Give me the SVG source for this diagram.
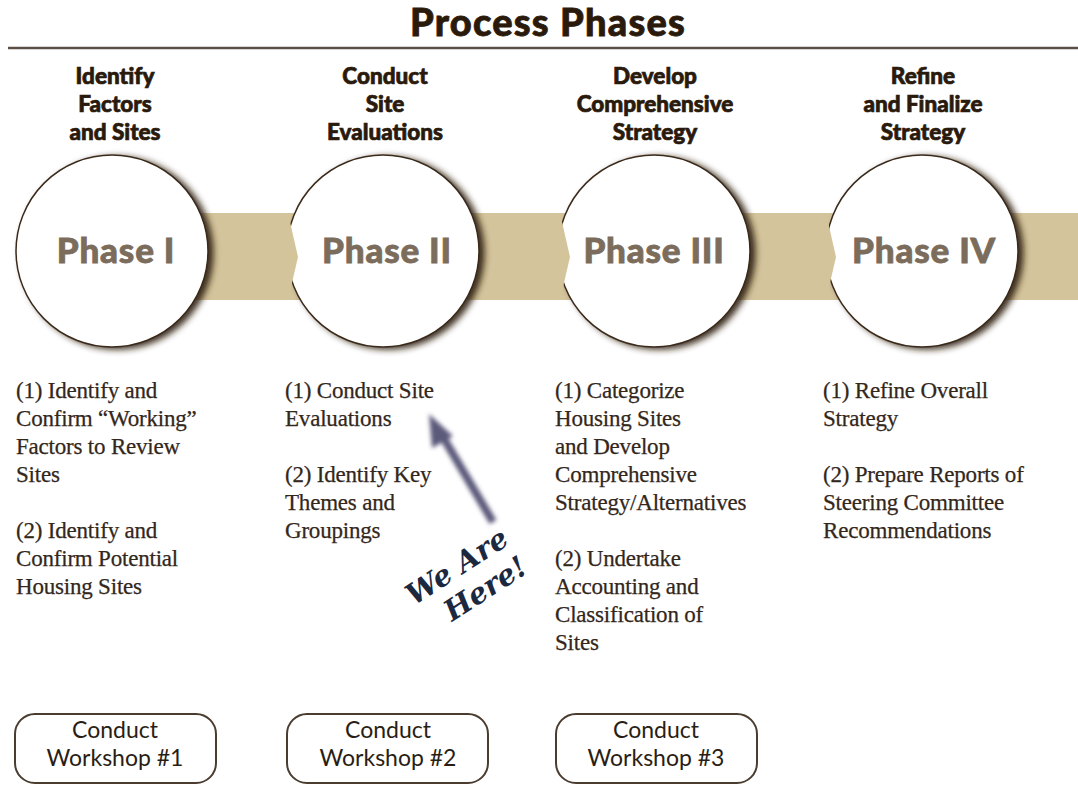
<svg xmlns="http://www.w3.org/2000/svg" width="1078" height="800" viewBox="0 0 1078 800">
<defs>
<filter id="sh" x="-20%" y="-20%" width="150%" height="150%">
<feDropShadow dx="5" dy="2" stdDeviation="3" flood-color="#2e1f10" flood-opacity="0.9"/>
</filter>
<filter id="blur" x="-30%" y="-30%" width="160%" height="160%">
<feGaussianBlur stdDeviation="2"/>
</filter>
<style>
.title{font-family:"Lato","DejaVu Sans",sans-serif;font-weight:900;font-size:38px;fill:#2a1a0c;stroke:#2a1a0c;stroke-width:0.8;text-anchor:middle;letter-spacing:1.2px}
.head{font-family:"Lato","DejaVu Sans",sans-serif;font-weight:900;font-size:22.5px;fill:#2a1a0c;stroke:#2a1a0c;stroke-width:0.7;text-anchor:middle}
.phase{font-family:"Lato","DejaVu Sans",sans-serif;font-weight:900;font-size:35px;fill:#7b6c5b;stroke:#7b6c5b;stroke-width:0.8;text-anchor:middle;letter-spacing:0.8px}
.body{font-family:"Liberation Serif","Times New Roman",serif;font-size:23px;fill:#33271b;stroke:#33271b;stroke-width:0.25;letter-spacing:-0.2px}
.ws{font-family:"Lato","DejaVu Sans",sans-serif;font-size:23px;fill:#2a1e14;text-anchor:middle}
.circ{fill:#ffffff;stroke:#3a2a1a;stroke-width:1.5;filter:url(#sh)}
.band{fill:#d4c49c}
.box{fill:#ffffff;stroke:#4a3d30;stroke-width:2}
.here{font-family:"DejaVu Serif",serif;font-style:italic;font-weight:bold;font-size:29px;fill:#1c2840}
</style>
</defs>
<text class="title" x="548" y="36">Process Phases</text>
<line x1="8" y1="48" x2="1078" y2="48" stroke="#5a5048" stroke-width="2.5"/>

<g id="bands">
<rect class="band" x="150" y="213" width="928" height="87"/>
</g>

<g id="phase1">
<text class="head" x="115" y="84">Identify</text>
<text class="head" x="115" y="112">Factors</text>
<text class="head" x="115" y="140">and Sites</text>
<circle class="circ" cx="112" cy="251" r="96"/>
<text class="phase" x="116" y="263">Phase I</text>
</g>
<g id="phase2">
<text class="head" x="385" y="84">Conduct</text>
<text class="head" x="385" y="112">Site</text>
<text class="head" x="385" y="140">Evaluations</text>
<circle class="circ" cx="383" cy="251" r="96"/>
<text class="phase" x="387" y="263">Phase II</text>
</g>
<g id="phase3">
<text class="head" x="655" y="84">Develop</text>
<text class="head" x="655" y="112">Comprehensive</text>
<text class="head" x="655" y="140">Strategy</text>
<circle class="circ" cx="654" cy="251" r="96"/>
<text class="phase" x="654" y="263">Phase III</text>
</g>
<g id="phase4">
<text class="head" x="923" y="84">Refine</text>
<text class="head" x="923" y="112">and Finalize</text>
<text class="head" x="923" y="140">Strategy</text>
<circle class="circ" cx="922" cy="251" r="96"/>
<text class="phase" x="924" y="263">Phase IV</text>
</g>

<g id="connectors">
<polygon class="band" points="274,213 288,213 298,257 288,300 274,300"/>
<polygon class="band" points="545,213 560,213 570,257 560,300 545,300"/>
<polygon class="band" points="812,213 826,213 836,257 826,300 812,300"/>
<g filter="url(#blur)">
<line x1="493" y1="522" x2="440" y2="432" stroke="#5c5a7a" stroke-width="8"/>
<polygon points="429,414 453,436 432,448" fill="#5c5a7a"/>
</g>
</g>

<g id="text1" class="body">
<text x="16" y="398">(1) Identify and</text>
<text x="16" y="426">Confirm “Working”</text>
<text x="16" y="454">Factors to Review</text>
<text x="16" y="482">Sites</text>
<text x="16" y="538">(2) Identify and</text>
<text x="16" y="566">Confirm Potential</text>
<text x="16" y="594">Housing Sites</text>
</g>
<g id="text2" class="body">
<text x="285" y="398">(1) Conduct Site</text>
<text x="285" y="426">Evaluations</text>
<text x="285" y="482">(2) Identify Key</text>
<text x="285" y="510">Themes and</text>
<text x="285" y="538">Groupings</text>
</g>
<g id="text3" class="body">
<text x="555" y="398">(1) Categorize</text>
<text x="555" y="426">Housing Sites</text>
<text x="555" y="454">and Develop</text>
<text x="555" y="482">Comprehensive</text>
<text x="555" y="510">Strategy/Alternatives</text>
<text x="555" y="566">(2) Undertake</text>
<text x="555" y="594">Accounting and</text>
<text x="555" y="622">Classification of</text>
<text x="555" y="650">Sites</text>
</g>
<g id="text4" class="body">
<text x="823" y="398">(1) Refine Overall</text>
<text x="823" y="426">Strategy</text>
<text x="823" y="482">(2) Prepare Reports of</text>
<text x="823" y="510">Steering Committee</text>
<text x="823" y="538">Recommendations</text>
</g>

<g id="here">
<text class="here" transform="translate(414,606) rotate(-33)">We Are</text>
<text class="here" transform="translate(452,622) rotate(-33)">Here!</text>
</g>

<g id="ws1">
<rect class="box" x="15" y="714" width="201" height="69" rx="20"/>
<text class="ws" x="115" y="738">Conduct</text>
<text class="ws" x="115" y="766">Workshop #1</text>
</g>
<g id="ws2">
<rect class="box" x="287" y="714" width="201" height="69" rx="20"/>
<text class="ws" x="388" y="738">Conduct</text>
<text class="ws" x="388" y="766">Workshop #2</text>
</g>
<g id="ws3">
<rect class="box" x="556" y="714" width="201" height="69" rx="20"/>
<text class="ws" x="656" y="738">Conduct</text>
<text class="ws" x="656" y="766">Workshop #3</text>
</g>
</svg>
